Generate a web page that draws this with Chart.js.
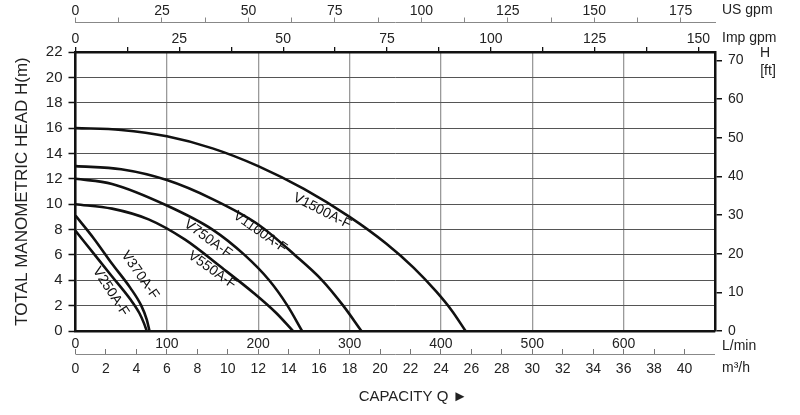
<!DOCTYPE html>
<html>
<head>
<meta charset="utf-8">
<script src="https://cdn.jsdelivr.net/npm/chart.js@4.4.1/dist/chart.umd.min.js"></script>
<style>
  html, body { margin: 0; padding: 0; background: #fff; }
  #wrap { width: 800px; height: 415px; }
</style>
</head>
<body>
<div id="wrap"><canvas id="pump"></canvas></div>
<script>
// pump models, capacity Q in L/min and head H in m
const models = ['V250A-F', 'V370A-F', 'V550A-F', 'V750A-F', 'V1100A-F', 'V1500A-F'];

const q250 = [0, 20, 40, 60, 70, 75, 78];
const h250 = [7.9, 6.1, 4.3, 2.5, 1.4, 0.6, 0];

const q370 = [0, 20, 40, 60, 72, 78, 81];
const h370 = [9.1, 7.3, 5.3, 3.4, 2.0, 0.9, 0];

const q550 = [0, 40, 80, 120, 160, 195, 220, 238];
const h550 = [10, 9.65, 8.8, 7.2, 5.0, 3.0, 1.4, 0];

const q750 = [0, 40, 100, 150, 185, 212, 232, 248];
const h750 = [12, 11.6, 9.9, 8.0, 6.0, 4.0, 2.0, 0];

const q1100 = [0, 50, 100, 150, 200, 240, 270, 293, 313];
const h1100 = [13, 12.75, 11.9, 10.4, 8.4, 6.0, 4.0, 2.0, 0];

const q1500 = [0, 50, 100, 150, 200, 250, 300, 340, 370, 395, 412, 427];
const h1500 = [16, 15.85, 15.35, 14.4, 13.0, 11.2, 9.0, 6.9, 5.0, 3.1, 1.6, 0];

const flows = [q250, q370, q550, q750, q1100, q1500];
const heads = [h250, h370, h550, h750, h1100, h1500];

// where each curve name sits: [Q, H, angle deg]
const labelPos = [
  [38.5, 3.1, 57],
  [70.6, 4.4, 55],
  [149.6, 4.8, 35],
  [145, 7.26, 36],
  [202, 7.8, 35],
  [269.8, 9.46, 27],
];

// unit conversions
const maxLmin = 700;
const maxHead = 22;
const L_PER_USGAL = 3.78541;
const L_PER_IMPGAL = 4.54609;
const M_PER_FT = 0.3048;

Chart.defaults.font.family = "'Liberation Sans', Arial, sans-serif";
Chart.defaults.font.size = 14;
Chart.defaults.color = '#222';

let datasets = [];
for (let i = 0; i < models.length; i++) {
  let pts = [];
  for (let j = 0; j < flows[i].length; j++) {
    pts.push({ x: flows[i][j], y: heads[i][j] });
  }
  datasets.push({
    label: models[i],
    data: pts,
    borderColor: '#111',
    borderWidth: 2.6,
    pointRadius: 0,
    fill: false,
    cubicInterpolationMode: 'monotone',
  });
}

const curveNames = {
  id: 'curveNames',
  afterDatasetsDraw(chart) {
    const { ctx, scales } = chart;
    ctx.save();
    ctx.fillStyle = '#111';
    ctx.font = "14px 'Liberation Sans', Arial, sans-serif";
    ctx.textAlign = 'center';
    ctx.textBaseline = 'middle';
    for (let i = 0; i < models.length; i++) {
      const [q, h, a] = labelPos[i];
      ctx.save();
      ctx.translate(scales.x.getPixelForValue(q), scales.y.getPixelForValue(h));
      ctx.rotate(a * Math.PI / 180);
      ctx.fillText(models[i], 0, 0);
      ctx.restore();
    }
    ctx.restore();
  }
};

const unitTexts = {
  id: 'unitTexts',
  afterDraw(chart) {
    const { ctx, chartArea, scales } = chart;
    const r = chartArea.right;
    ctx.save();
    ctx.fillStyle = '#222';
    ctx.font = "14px 'Liberation Sans', Arial, sans-serif";
    ctx.textBaseline = 'middle';
    ctx.textAlign = 'left';
    ctx.fillText('US gpm', r + 7, 10);
    ctx.fillText('Imp gpm', r + 7, 38);
    ctx.fillText('L/min', r + 7, 346);
    ctx.fillText('m\u00b3/h', r + 7, 368);
    ctx.textAlign = 'center';
    ctx.fillText('H', r + 50, 53);
    ctx.fillText('[ft]', r + 53, 71);
    ctx.font = "15px 'Liberation Sans', Arial, sans-serif";
    ctx.fillText('CAPACITY Q \u25ba', 413, 397);
    // m3/h base line, ticks stand on it
    const s = scales.xm3;
    ctx.strokeStyle = '#888';
    ctx.lineWidth = 1;
    ctx.beginPath();
    ctx.moveTo(chartArea.left, s.top + 5.5);
    ctx.lineTo(r, s.top + 5.5);
    ctx.stroke();
    ctx.restore();
  }
};

new Chart(document.getElementById('pump'), {
  type: 'line',
  data: { datasets: datasets },
  plugins: [curveNames, unitTexts],
  options: {
    responsive: true,
    maintainAspectRatio: false,
    animation: false,
    devicePixelRatio: 1,
    layout: { padding: 0 },
    plugins: { legend: { display: false }, tooltip: { enabled: false } },
    scales: {
      x: {
        type: 'linear', position: 'bottom', weight: 0,
        min: 0, max: maxLmin,
        grid: { color: '#9a9a9a', lineWidth: 1.3, drawTicks: false },
        border: { color: '#111', width: 2.5 },
        ticks: { stepSize: 100, padding: 5, autoSkip: false, maxRotation: 0,
                 callback: v => (v < maxLmin ? v : '') },
        afterFit: s => { s.height = 18; },
      },
      xm3: {
        type: 'linear', position: 'bottom', weight: 1,
        min: 0, max: maxLmin * 60 / 1000,
        grid: { drawOnChartArea: false, tickLength: 5, lineWidth: 1,
                color: c => (c.tick && c.tick.value >= 42 ? 'rgba(0,0,0,0)' : '#777') },
        border: { display: false },
        ticks: { stepSize: 2, padding: 7, autoSkip: false, maxRotation: 0, includeBounds: false,
                 callback: v => (v < 42 ? v : '') },
        afterFit: s => { s.height = 66; },
      },
      imp: {
        type: 'linear', position: 'top', weight: 0,
        min: 0, max: maxLmin / L_PER_IMPGAL,
        grid: { drawOnChartArea: false, tickLength: 5, color: '#111', lineWidth: 1.3 },
        border: { color: '#111', width: 2.5 },
        ticks: { stepSize: 12.5, padding: -1, autoSkip: false, maxRotation: 0, includeBounds: false,
                 callback: v => (v % 25 === 0 ? v : '') },
        afterFit: s => { s.height = 29.5; },
      },
      us: {
        type: 'linear', position: 'top', weight: 1,
        min: 0, max: maxLmin / L_PER_USGAL,
        grid: { drawOnChartArea: false, tickLength: 5, color: '#888', lineWidth: 1 },
        border: { color: '#888', width: 1 },
        ticks: { stepSize: 12.5, padding: -2, autoSkip: false, maxRotation: 0, includeBounds: false,
                 callback: v => (v % 25 === 0 ? v : '') },
        afterFit: s => { s.height = 22.5; },
      },
      y: {
        type: 'linear', position: 'left',
        min: 0, max: maxHead,
        grid: { color: '#555', lineWidth: 1, tickLength: 7, tickColor: '#111', tickWidth: 1.5 },
        border: { color: '#111', width: 2.5 },
        ticks: { stepSize: 2, padding: 6, font: { size: 15 } },
        title: { display: true, text: 'TOTAL MANOMETRIC HEAD H(m)', font: { size: 17 },
                 padding: { top: 12, bottom: 0 }, color: '#222' },
        afterFit: s => { s.width = 75.5; },
      },
      ft: {
        type: 'linear', position: 'right',
        min: 0, max: maxHead / M_PER_FT,
        grid: { drawOnChartArea: false, tickLength: 7, color: '#111', lineWidth: 1.5 },
        border: { color: '#111', width: 2.5 },
        ticks: { stepSize: 10, padding: 6, includeBounds: false },
        afterFit: s => { s.width = 85; },
      },
    },
  },
});
</script>
</body>
</html>
